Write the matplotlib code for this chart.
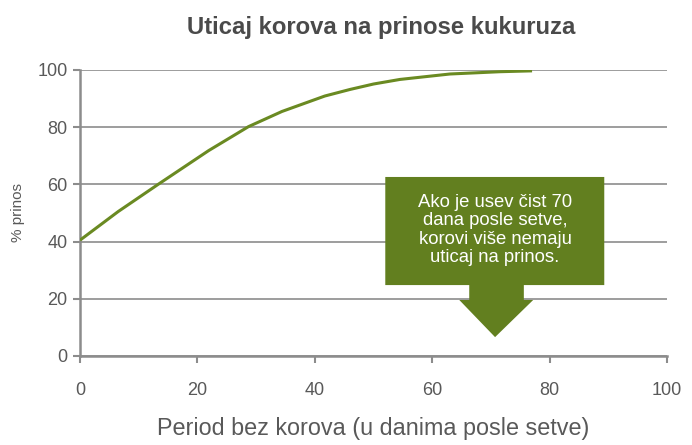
import matplotlib.pyplot as plt
from matplotlib.patches import Polygon

plt.rcParams['font.family'] = ['Liberation Sans', 'DejaVu Sans']

# days weed-free vs. relative yield (%)
days = [0, 6.5, 13.3, 21.9, 28.7, 34.4, 41.7, 46, 50, 54.5, 63, 71.5, 77]
yield_pct = [40.5, 50.5, 60, 71.8, 80.2, 85.5, 90.9, 93.2, 95.1, 96.7, 98.6, 99.4, 99.7]

x_ticks = [0, 20, 40, 60, 80, 100]
y_ticks = [0, 20, 40, 60, 80, 100]

title = "Uticaj korova na prinose kukuruza"
x_label = "Period bez korova (u danima posle setve)"
y_label = "% prinos"
note = "Ako je usev čist 70\ndana posle setve,\nkorovi više nemaju\nuticaj na prinos."
note_day = 70

green = "#627f1f"
gray = "#595959"
grid_gray = "#8c8c8c"

fig = plt.figure(figsize=(6.92, 4.45), dpi=100)
ax = fig.add_axes([0.1156, 0.2, 0.8484, 0.6427])

ax.plot(days, yield_pct, color="#6a8a22", lw=2.2, solid_capstyle="butt",
        solid_joinstyle="round", zorder=3)

ax.set_xlim(0, 100)
ax.set_ylim(0, 100)
ax.set_xticks(x_ticks)
ax.set_yticks(y_ticks)
ax.grid(axis="y", color=grid_gray, lw=1.2)
ax.set_axisbelow(True)

for s in ["top", "right"]:
    ax.spines[s].set_visible(False)
for s in ["left", "bottom"]:
    ax.spines[s].set_color(grid_gray)
    ax.spines[s].set_linewidth(1.8)
ax.tick_params(colors=grid_gray, length=5, width=1.5, labelcolor=gray, labelsize=13)
ax.tick_params(axis="x", pad=14)
ax.tick_params(axis="y", pad=4)

# callout box with arrow pointing at day 70
box = Polygon([(52, 62.6), (89.3, 62.6), (89.3, 24.8), (75.6, 24.8), (75.6, 19.6),
               (77.2, 19.6), (note_day + 0.7, 6.6), (64.6, 19.6), (66.3, 19.6),
               (66.3, 24.8), (52, 24.8)],
              closed=True, facecolor=green, edgecolor="none", zorder=4)
ax.add_patch(box)
ax.text(70.7, 44, note, color="white", ha="center", va="center", fontsize=13.3,
        linespacing=1.12, zorder=5)

fig.text(0.551, 0.939, title, ha="center", va="center", fontsize=17.2,
         fontweight="bold", color="#4a4a4a")
ax.set_xlabel(x_label, fontsize=16.8, color=gray, labelpad=13)
ax.set_ylabel(y_label, fontsize=11, color=gray)
ax.yaxis.set_label_coords(-0.094, 0.5)

fig.savefig("out.png", dpi=100)
